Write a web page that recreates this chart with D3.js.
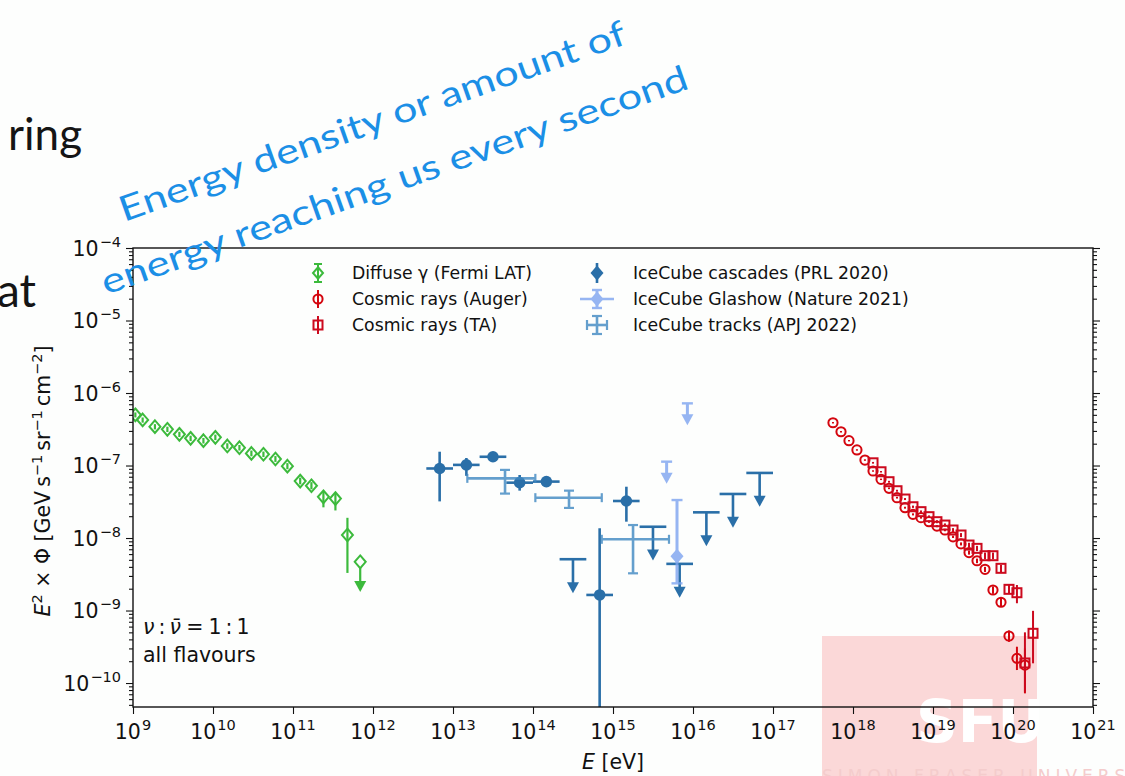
<!DOCTYPE html>
<html><head><meta charset="utf-8">
<script src="https://cdn.jsdelivr.net/npm/d3@7"></script>
<style>
html,body{margin:0;padding:0;background:#fdfefd;overflow:hidden;}
svg{display:block;font-family:"DejaVu Sans",sans-serif;}
</style></head><body>
<svg id="c" width="1125" height="776"></svg>
<script>
// ---------------- DATA ----------------
const xTickExp = [9,10,11,12,13,14,15,16,17,18,19,20,21];
const yTickExp = [-10,-9,-8,-7,-6,-5,-4];

// Fermi LAT diffuse gamma
const fermiE  = [1.07e9,1.32e9,1.88e9,2.69e9,3.80e9,5.25e9,7.59e9,1.07e10,1.51e10,2.14e10,3.02e10,4.27e10,6.03e10,8.51e10,1.23e11,1.70e11,2.40e11,3.39e11,4.79e11];
const fermiV  = [5.0e-7,4.25e-7,3.43e-7,3.16e-7,2.69e-7,2.37e-7,2.20e-7,2.45e-7,1.86e-7,1.76e-7,1.47e-7,1.43e-7,1.23e-7,9.8e-8,6.1e-8,5.26e-8,3.7e-8,3.5e-8,1.1e-8];
const fermiLo = [4.6e-7,3.9e-7,3.15e-7,2.9e-7,2.47e-7,2.17e-7,2.01e-7,2.24e-7,1.7e-7,1.61e-7,1.34e-7,1.31e-7,1.12e-7,8.9e-8,5.5e-8,4.7e-8,2.65e-8,2.4e-8,3.3e-9];
const fermiHi = [5.4e-7,4.6e-7,3.72e-7,3.43e-7,2.92e-7,2.58e-7,2.4e-7,2.67e-7,2.03e-7,1.92e-7,1.61e-7,1.56e-7,1.35e-7,1.08e-7,6.8e-8,5.9e-8,4.35e-8,4.2e-8,1.9e-8];
const fermiUlE = [6.92e11];
const fermiUlV = [4.7e-9];
const fermiUlTip = [1.8e-9];

// Auger
const augerE  = [5.62e17,7.08e17,8.91e17,1.12e18,1.41e18,1.78e18,2.24e18,2.82e18,3.55e18,4.47e18,5.62e18,7.08e18,8.91e18,1.12e19,1.41e19,1.78e19,2.24e19,2.82e19,3.55e19,4.47e19,5.62e19,7.08e19,8.91e19,1.12e20,1.41e20];
const augerV  = [3.89e-7,2.92e-7,2.20e-7,1.64e-7,1.19e-7,8.4e-8,6.45e-8,4.85e-8,3.6e-8,2.62e-8,2.12e-8,1.91e-8,1.68e-8,1.46e-8,1.29e-8,1.04e-8,8.3e-9,6.3e-9,4.86e-9,3.7e-9,1.92e-9,1.30e-9,4.45e-10,2.19e-10,1.77e-10];
const augerLo = [3.8e-7,2.85e-7,2.15e-7,1.6e-7,1.16e-7,8.2e-8,6.3e-8,4.72e-8,3.5e-8,2.54e-8,2.05e-8,1.85e-8,1.62e-8,1.41e-8,1.24e-8,1.0e-8,7.9e-9,5.9e-9,4.5e-9,3.4e-9,1.7e-9,1.12e-9,3.7e-10,1.51e-10,7.2e-11];
const augerHi = [3.98e-7,2.99e-7,2.25e-7,1.68e-7,1.22e-7,8.6e-8,6.6e-8,4.98e-8,3.7e-8,2.7e-8,2.19e-8,1.97e-8,1.74e-8,1.51e-8,1.34e-8,1.08e-8,8.7e-9,6.7e-9,5.2e-9,4.0e-9,2.15e-9,1.5e-9,5.3e-10,3.17e-10,3.0e-10];

// Telescope Array
const taE  = [1.78e18,2.24e18,2.82e18,3.55e18,4.47e18,5.62e18,7.08e18,8.91e18,1.12e19,1.41e19,1.78e19,2.24e19,2.82e19,3.55e19,4.47e19,5.62e19,7.08e19,8.91e19,1.12e20,1.41e20,1.78e20];
const taV  = [1.09e-7,8.2e-8,5.98e-8,4.49e-8,3.45e-8,2.70e-8,2.31e-8,1.97e-8,1.68e-8,1.51e-8,1.29e-8,1.10e-8,8.0e-9,7.2e-9,5.7e-9,5.7e-9,3.82e-9,1.96e-9,1.76e-9,1.89e-10,4.85e-10];
const taLo = [1.06e-7,8.0e-8,5.8e-8,4.35e-8,3.34e-8,2.6e-8,2.22e-8,1.89e-8,1.6e-8,1.43e-8,1.21e-8,1.03e-8,7.4e-9,6.6e-9,5.1e-9,5.1e-9,3.4e-9,1.7e-9,1.26e-9,7.6e-11,1.87e-10];
const taHi = [1.12e-7,8.4e-8,6.15e-8,4.63e-8,3.56e-8,2.8e-8,2.4e-8,2.05e-8,1.76e-8,1.59e-8,1.37e-8,1.17e-8,8.6e-9,7.8e-9,6.3e-9,6.3e-9,4.25e-9,2.25e-9,2.25e-9,5.0e-10,9.9e-10];

// IceCube cascades (PRL 2020)
const cascE   = [6.81e12,1.47e13,3.16e13,6.81e13,1.47e14,6.81e14,1.47e15];
const cascElo = [4.64e12,1.0e13,2.15e13,4.64e13,1.0e14,4.64e14,1.0e15];
const cascEhi = [1.0e13,2.15e13,4.64e13,1.0e14,2.15e14,1.0e15,2.15e15];
const cascV   = [9.1e-8,1.02e-7,1.32e-7,5.8e-8,6.0e-8,1.64e-9,3.24e-8];
const cascLo  = [3.2e-8,7.2e-8,1.24e-7,4.5e-8,5.4e-8,1e-12,1.68e-8];
const cascHi  = [1.55e-7,1.27e-7,1.40e-7,7.4e-8,6.7e-8,1.36e-8,5.1e-8];
const cascUlE   = [3.16e14,3.16e15,6.81e15,1.47e16,3.16e16,6.81e16];
const cascUlElo = [2.15e14,2.15e15,4.64e15,1.0e16,2.15e16,4.64e16];
const cascUlEhi = [4.64e14,4.64e15,1.0e16,2.15e16,4.64e16,1.0e17];
const cascUlV   = [5.1e-9,1.43e-8,4.4e-9,2.26e-8,4.05e-8,7.9e-8];
const cascUlTip = [1.73e-9,4.9e-9,1.5e-9,7.7e-9,1.38e-8,2.7e-8];

// IceCube Glashow (Nature 2021)
const glaE  = [6.31e15];
const glaV  = [5.6e-9];
const glaLo = [2.37e-9];
const glaHi = [3.34e-8];
const glaUlE   = [4.68e15,8.51e15];
const glaUlV   = [1.13e-7,7.2e-7];
const glaUlTip = [5.6e-8,3.6e-7];

// IceCube tracks (APJ 2022)
const trkE   = [4.47e13,2.82e14,1.78e15];
const trkElo = [1.51e13,1.07e14,7.24e14];
const trkEhi = [1.07e14,7.24e14,5.01e15];
const trkV   = [6.65e-8,3.6e-8,9.6e-9];
const trkLo  = [4.1e-8,2.6e-8,3.26e-9];
const trkHi  = [8.7e-8,4.5e-8,1.51e-8];

const legendLabels = ["Diffuse \u03b3 (Fermi LAT)","Cosmic rays (Auger)","Cosmic rays (TA)","IceCube cascades (PRL 2020)","IceCube Glashow (Nature 2021)","IceCube tracks (APJ 2022)"];

// ---------------- STYLE ----------------
const cGreen = "#3cba3c", cRedA = "#d4060f", cRedT = "#cc0a1e", cCasc = "#2a6fa8",
      cTrk = "#3f88c2", cGla = "#7da4f0", cBlueTxt = "#1b8fe6";

const svg = d3.select('#c');
const m = {l:133, r:1093, t:248, b:707};
const x = d3.scaleLog().domain([1e9,1e21]).range([m.l,m.r]);
const y = d3.scaleLog().domain([4.67e-11,1e-4]).range([m.b,m.t]);

svg.append('rect').attr('width',1125).attr('height',776).attr('fill','#fdfefd');

// SFU watermark (behind the plot)
svg.append('rect').attr('x',822).attr('y',636).attr('width',215).attr('height',140).attr('fill','#fbd8d8');
svg.append('text').attr('x',916).attr('y',742).attr('font-size',58).attr('font-weight','bold').attr('fill','#ffffff').text('SFU');
svg.append('text').attr('x',822).attr('y',782).attr('font-size',17).attr('letter-spacing',5).attr('fill','#f4cccc').text('SIMON FRASER UNIVERSITY');

// background slide text
svg.append('text').attr('x',8).attr('y',150).attr('font-family','Lato, "Open Sans", sans-serif')
  .attr('font-size',44).attr('fill','#151515').text('ring');
svg.append('text').attr('x',-3).attr('y',307).attr('font-family','Lato, "Open Sans", sans-serif')
  .attr('font-size',46).attr('fill','#151515').text('at');

const defs = svg.append('defs');
defs.append('clipPath').attr('id','clip').append('rect')
  .attr('x',m.l).attr('y',m.t).attr('width',m.r-m.l).attr('height',m.b-m.t);

// axes
const yMinor = [];
yTickExp.concat([-11]).forEach(e=>{ for(let k=2;k<=9;k++){ const v=k*Math.pow(10,e); if(v>y.domain()[0] && v<1e-4) yMinor.push(v);} });
const yMajor = yTickExp.map(e=>Math.pow(10,e));
const xMajor = xTickExp.map(e=>Math.pow(10,e));

function styleAxis(g){ g.select('.domain').remove(); g.selectAll('line').attr('stroke','#111').attr('stroke-width',1.1); g.selectAll('text').remove(); }
svg.append('g').attr('transform',`translate(${m.l},0)`).call(d3.axisLeft(y).tickValues(yMajor).tickSize(7).tickSizeOuter(0)).call(styleAxis);
svg.append('g').attr('transform',`translate(${m.l},0)`).call(d3.axisLeft(y).tickValues(yMinor).tickSize(4).tickSizeOuter(0)).call(styleAxis);
svg.append('g').attr('transform',`translate(${m.r},0)`).call(d3.axisRight(y).tickValues(yMajor).tickSize(7).tickSizeOuter(0)).call(styleAxis);
svg.append('g').attr('transform',`translate(${m.r},0)`).call(d3.axisRight(y).tickValues(yMinor).tickSize(4).tickSizeOuter(0)).call(styleAxis);
svg.append('g').attr('transform',`translate(0,${m.b})`).call(d3.axisBottom(x).tickValues(xMajor).tickSize(7).tickSizeOuter(0)).call(styleAxis);

// tick labels
const sup = (t, base, exp, fs, fe) => { t.append('tspan').attr('font-size',fs).text(base);
  t.append('tspan').attr('font-size',fe).attr('dx',1).attr('dy',-fs*0.42).text(exp); };
xTickExp.forEach(e=>{
  const t = svg.append('text').attr('x',x(Math.pow(10,e))).attr('y',739).attr('text-anchor','middle').attr('fill','#111');
  sup(t,'10',String(e),20.5,14.5);
});
yTickExp.forEach(e=>{
  const t = svg.append('text').attr('x',121).attr('y',y(Math.pow(10,e))+7.5).attr('text-anchor','end').attr('fill','#111');
  sup(t,'10','\u2212'+Math.abs(e),20.5,14.5);
});

// axis labels
{
  const t = svg.append('text').attr('x',613).attr('y',769).attr('text-anchor','middle').attr('font-size',20.5).attr('fill','#111');
  t.append('tspan').attr('font-style','italic').text('E');
  t.append('tspan').text(' [eV]');
}
{
  const t = svg.append('text').attr('transform','translate(50,481) rotate(-90)').attr('text-anchor','middle').attr('font-size',20.5).attr('fill','#111');
  t.append('tspan').attr('font-style','italic').text('E');
  t.append('tspan').attr('font-size',14.5).attr('dy',-8).text('2');
  t.append('tspan').attr('dy',8).text(' \u00d7 \u03a6 [GeV\u2009s');
  t.append('tspan').attr('font-size',14.5).attr('dy',-8).text('\u22121');
  t.append('tspan').attr('dy',8).text('\u2009sr');
  t.append('tspan').attr('font-size',14.5).attr('dy',-8).text('\u22121');
  t.append('tspan').attr('dy',8).text('\u2009cm');
  t.append('tspan').attr('font-size',14.5).attr('dy',-8).text('\u22122');
  t.append('tspan').attr('dy',8).text(']');
}

// ---------------- MARKS ----------------
const D = svg.append('g').attr('clip-path','url(#clip)');
function seg(g,x1,y1,x2,y2,c,w,op){ return g.append('line').attr('x1',x1).attr('y1',y1).attr('x2',x2).attr('y2',y2).attr('stroke',c).attr('stroke-width',w).attr('opacity',op==null?1:op); }
function arrow(g,cx,tip,c,op){ return g.append('path').attr('d',`M${cx-6},${tip-11}L${cx+6},${tip-11}L${cx},${tip}Z`).attr('fill',c).attr('opacity',op==null?1:op); }
const diamond = (s)=>`M0,${-s*1.15}L${s},0L0,${s*1.15}L${-s},0Z`;

// Fermi
const gF = D.append('g');
fermiE.forEach((e,i)=>{
  seg(gF,x(e),y(fermiLo[i]),x(e),y(fermiHi[i]),cGreen,2.2);
  gF.append('path').attr('d',diamond(5.5)).attr('transform',`translate(${x(e)},${y(fermiV[i])})`).attr('fill','none').attr('stroke',cGreen).attr('stroke-width',2);
});
fermiUlE.forEach((e,i)=>{
  seg(gF,x(e),y(fermiUlV[i]),x(e),y(fermiUlTip[i])-8,cGreen,2.2);
  arrow(gF,x(e),y(fermiUlTip[i]),cGreen);
  gF.append('path').attr('d',diamond(5.5)).attr('transform',`translate(${x(e)},${y(fermiUlV[i])})`).attr('fill','#fdfefd').attr('stroke',cGreen).attr('stroke-width',2);
});

// Auger
const gA = D.append('g');
augerE.forEach((e,i)=>{
  seg(gA,x(e),y(augerLo[i]),x(e),y(augerHi[i]),cRedA,2);
  gA.append('circle').attr('cx',x(e)).attr('cy',y(augerV[i])).attr('r',4.6).attr('fill','none').attr('stroke',cRedA).attr('stroke-width',2);
});
// TA
const gT = D.append('g');
taE.forEach((e,i)=>{
  seg(gT,x(e),y(taLo[i]),x(e),y(taHi[i]),cRedT,2);
  gT.append('rect').attr('x',x(e)-4.5).attr('y',y(taV[i])-4.5).attr('width',9).attr('height',9).attr('fill','none').attr('stroke',cRedT).attr('stroke-width',2);
});

// cascades
const gC = D.append('g');
cascE.forEach((e,i)=>{
  seg(gC,x(e),y(cascLo[i]),x(e),y(cascHi[i]),cCasc,2.6);
  seg(gC,x(cascElo[i]),y(cascV[i]),x(cascEhi[i]),y(cascV[i]),cCasc,2.6);
  gC.append('circle').attr('cx',x(e)).attr('cy',y(cascV[i])).attr('r',5.8).attr('fill',cCasc);
});
cascUlE.forEach((e,i)=>{
  seg(gC,x(cascUlElo[i]),y(cascUlV[i]),x(cascUlEhi[i]),y(cascUlV[i]),cCasc,2.6);
  seg(gC,x(e),y(cascUlV[i]),x(e),y(cascUlTip[i])-8,cCasc,2.6);
  arrow(gC,x(e),y(cascUlTip[i]),cCasc);
});

// tracks
const gK = D.append('g').attr('opacity',0.8);
trkE.forEach((e,i)=>{
  const yy=y(trkV[i]), xx=x(e);
  seg(gK,x(trkElo[i]),yy,x(trkEhi[i]),yy,cTrk,2.6);
  seg(gK,xx,y(trkLo[i]),xx,y(trkHi[i]),cTrk,2.6);
  seg(gK,x(trkElo[i]),yy-4.5,x(trkElo[i]),yy+4.5,cTrk,2.2);
  seg(gK,x(trkEhi[i]),yy-4.5,x(trkEhi[i]),yy+4.5,cTrk,2.2);
  seg(gK,xx-5,y(trkLo[i]),xx+5,y(trkLo[i]),cTrk,2.2);
  seg(gK,xx-5,y(trkHi[i]),xx+5,y(trkHi[i]),cTrk,2.2);
});

// Glashow
const gG = D.append('g').attr('opacity',0.8);
glaE.forEach((e,i)=>{
  const xx=x(e);
  seg(gG,xx,y(glaLo[i]),xx,y(glaHi[i]),cGla,3);
  seg(gG,xx-5.5,y(glaLo[i]),xx+5.5,y(glaLo[i]),cGla,2.4);
  seg(gG,xx-5.5,y(glaHi[i]),xx+5.5,y(glaHi[i]),cGla,2.4);
  gG.append('path').attr('d',diamond(6.5)).attr('transform',`translate(${xx},${y(glaV[i])})`).attr('fill',cGla);
});
glaUlE.forEach((e,i)=>{
  const xx=x(e);
  seg(gG,xx-5.5,y(glaUlV[i]),xx+5.5,y(glaUlV[i]),cGla,2.4);
  seg(gG,xx,y(glaUlV[i]),xx,y(glaUlTip[i])-8,cGla,3);
  arrow(gG,xx,y(glaUlTip[i]),cGla);
});

// frame
svg.append('rect').attr('x',m.l).attr('y',m.t).attr('width',m.r-m.l).attr('height',m.b-m.t)
  .attr('fill','none').attr('stroke','#111').attr('stroke-width',1.4);

// ---------------- LEGEND ----------------
const L = svg.append('g');
const rows = [273,299,325];
const c1 = 318, c2 = 597;
legendLabels.forEach((lab,i)=>{
  const cx = i<3? 352 : 633;
  L.append('text').attr('x',cx).attr('y',rows[i%3]+6).attr('font-size',17.3).attr('fill','#111').text(lab);
});
// Fermi
seg(L,c1,rows[0]-9,c1,rows[0]+9,cGreen,2); seg(L,c1-4,rows[0]-9,c1+4,rows[0]-9,cGreen,2); seg(L,c1-4,rows[0]+9,c1+4,rows[0]+9,cGreen,2);
L.append('path').attr('d',diamond(5)).attr('transform',`translate(${c1},${rows[0]})`).attr('fill','none').attr('stroke',cGreen).attr('stroke-width',2);
// Auger
seg(L,c1,rows[1]-9,c1,rows[1]+9,cRedA,2);
L.append('circle').attr('cx',c1).attr('cy',rows[1]).attr('r',4.6).attr('fill','none').attr('stroke',cRedA).attr('stroke-width',2);
// TA
seg(L,c1,rows[2]-9,c1,rows[2]+9,cRedT,2);
L.append('rect').attr('x',c1-4.5).attr('y',rows[2]-4.5).attr('width',9).attr('height',9).attr('fill','none').attr('stroke',cRedT).attr('stroke-width',2);
// cascades
seg(L,c2,rows[0]-10,c2,rows[0]+10,cCasc,2.6);
L.append('path').attr('d',diamond(6.5)).attr('transform',`translate(${c2},${rows[0]})`).attr('fill',cCasc);
// Glashow
{ const g=L.append('g').attr('opacity',0.8);
  seg(g,c2-17,rows[1],c2+17,rows[1],cGla,2.4);
  seg(g,c2,rows[1]-9,c2,rows[1]+9,cGla,3); seg(g,c2-5,rows[1]-9,c2+5,rows[1]-9,cGla,2.4); seg(g,c2-5,rows[1]+9,c2+5,rows[1]+9,cGla,2.4);
  g.append('path').attr('d',diamond(6.5)).attr('transform',`translate(${c2},${rows[1]})`).attr('fill',cGla); }
// tracks
{ const g=L.append('g').attr('opacity',0.8);
  seg(g,c2-10,rows[2],c2+10,rows[2],cTrk,2.6); seg(g,c2,rows[2]-9,c2,rows[2]+9,cTrk,2.6);
  seg(g,c2-10,rows[2]-5,c2-10,rows[2]+5,cTrk,2.2); seg(g,c2+10,rows[2]-5,c2+10,rows[2]+5,cTrk,2.2);
  seg(g,c2-5,rows[2]-9,c2+5,rows[2]-9,cTrk,2.2); seg(g,c2-5,rows[2]+9,c2+5,rows[2]+9,cTrk,2.2); }

// in-plot note
{
  const t = svg.append('text').attr('x',143).attr('y',634).attr('font-size',20.5).attr('fill','#111');
  t.append('tspan').attr('font-style','italic').text('\u03bd');
  t.append('tspan').text('\u2009:\u2009');
  t.append('tspan').attr('font-style','italic').text('\u03bd\u0304');
  t.append('tspan').text('\u2005=\u20051\u2009:\u20091');
  svg.append('text').attr('x',143).attr('y',662).attr('font-size',20.5).attr('fill','#111').text('all flavours');
}

// blue annotation
svg.append('text').attr('transform','translate(124,222) rotate(-19.5)').attr('font-family','Lato, "Open Sans", sans-serif')
  .attr('font-size',35).attr('fill',cBlueTxt).attr('textLength',535).attr('lengthAdjust','spacingAndGlyphs').text('Energy density or amount of');
svg.append('text').attr('transform','translate(106,295) rotate(-19.5)').attr('font-family','Lato, "Open Sans", sans-serif')
  .attr('font-size',35).attr('fill',cBlueTxt).attr('textLength',620).attr('lengthAdjust','spacingAndGlyphs').text('energy reaching us every second');
</script>
</body></html>
